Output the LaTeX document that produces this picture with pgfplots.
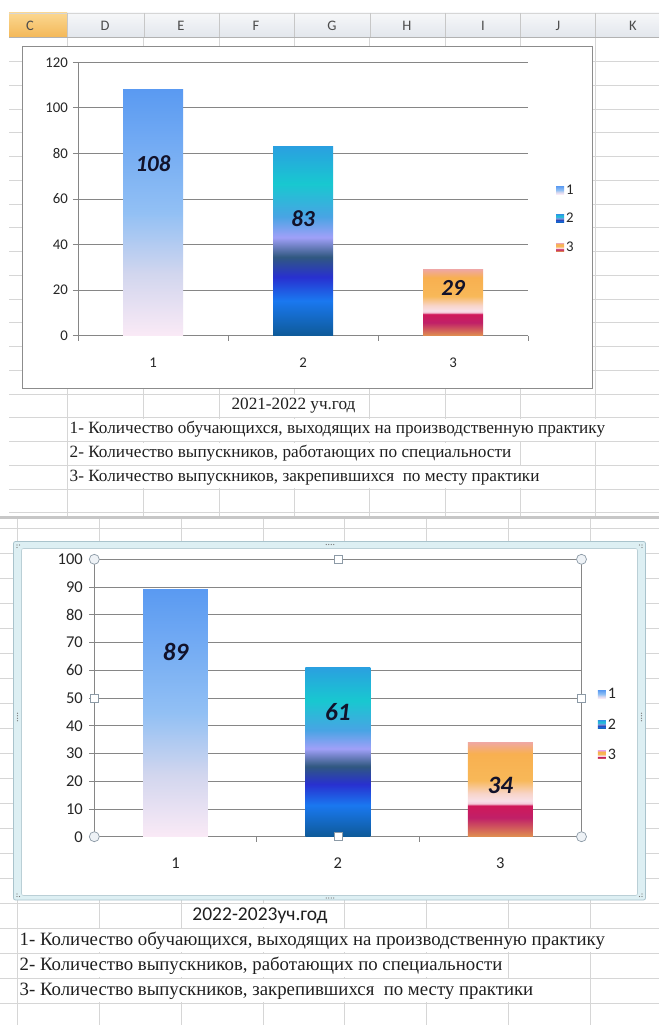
\documentclass[border=0pt]{standalone}
\usepackage{pgfplots}
\pgfplotsset{compat=1.18}
\usetikzlibrary{calc}
\usepackage{fontspec}
\setmainfont{Liberation Serif}
\newfontfamily\calf{Carlito}
% bar 1 shading
\definecolor{a0}{HTML}{FAEAF6}
\definecolor{a1}{HTML}{D2D6EE}
\definecolor{a2}{HTML}{92C0F4}
\definecolor{a3}{HTML}{5A9AF2}
\pgfdeclareverticalshading{barA}{100bp}{color(0bp)=(a0); color(25bp)=(a0); color(37.5bp)=(a1); color(50bp)=(a2); color(75bp)=(a3); color(100bp)=(a3)}
% bar 2 shading
\definecolor{b0}{HTML}{0E5A98}
\definecolor{b1}{HTML}{1A78F0}
\definecolor{b2}{HTML}{2830D0}
\definecolor{b3}{HTML}{305880}
\definecolor{b4}{HTML}{A0A0F8}
\definecolor{b5}{HTML}{48A4E4}
\definecolor{b6}{HTML}{18C8D0}
\definecolor{b7}{HTML}{2AA0E0}
\pgfdeclareverticalshading{barB}{100bp}{color(0bp)=(b0); color(25bp)=(b0); color(34.3bp)=(b1); color(40.5bp)=(b2); color(45.8bp)=(b3); color(51bp)=(b4); color(56.5bp)=(b5); color(65.2bp)=(b6); color(75bp)=(b7); color(100bp)=(b7)}
% bar 3 shading
\definecolor{c0}{HTML}{E09050}
\definecolor{c1}{HTML}{C02068}
\definecolor{c2}{HTML}{D0185A}
\definecolor{c3}{HTML}{F4C8D8}
\definecolor{c4}{HTML}{F8E0E8}
\definecolor{c5}{HTML}{F8D4C8}
\definecolor{c6}{HTML}{F8B858}
\definecolor{c7}{HTML}{F8B050}
\definecolor{c8}{HTML}{F0A8A0}
\pgfdeclareverticalshading{barC}{100bp}{color(0bp)=(c0); color(25bp)=(c0); color(35bp)=(c1); color(41.5bp)=(c2); color(42.5bp)=(c3); color(44bp)=(c4); color(48bp)=(c5); color(55bp)=(c6); color(69bp)=(c7); color(75bp)=(c8); color(100bp)=(c8)}
% header shading
\definecolor{h0}{HTML}{F6F7F9}
\definecolor{h1}{HTML}{E2E6EC}
\definecolor{o0}{HTML}{FBD790}
\definecolor{o1}{HTML}{F3B757}
\definecolor{axisgray}{RGB}{134,134,134}
\definecolor{cellgrid}{RGB}{214,214,214}
\definecolor{lbl}{HTML}{12122A}
\definecolor{frameband}{HTML}{DDEFF3}
\definecolor{frameline}{HTML}{A9C3CC}
\definecolor{handle}{HTML}{8C9AA6}
\definecolor{handlefill}{HTML}{EEF2F6}
\pgfplotsset{
  /pgfplots/ybar legend/.style={/pgfplots/legend image code/.code={\path[##1,draw=none] (0pt,-4pt) rectangle (8pt,4pt);}},
}
\tikzset{hc/.style={fill=handlefill,draw=handle,line width=0.7pt},
  hs/.style={fill=white,draw=handle,line width=0.7pt,minimum size=8pt,inner sep=0pt,rectangle}}
\begin{document}
\begin{tikzpicture}[x=1pt,y=-1pt]
\useasboundingbox (0,0) rectangle (659,1025);
\fill[white] (0,0) rectangle (659,1025);
% ---------------- top screenshot ----------------
\shade[top color=h0,bottom color=h1] (9,13) rectangle (659,37.75);
\shade[top color=o0,bottom color=o1] (9,13) rectangle (67,37.75);
\draw[cellgrid] (9,13) -- (659,13);
\foreach \k in {0,...,20} {\draw[cellgrid,line width=0.8pt] (9,37.75+23.75*\k) -- (659,37.75+23.75*\k);}
\foreach \xx in {67,143.8,218.9,294.3,369.8,445.3,520,595.4} {
  \draw[cellgrid,line width=0.8pt] (\xx,37.75) -- (\xx,516);
  \draw[black!22] (\xx,13) -- (\xx,37.75);
}
\draw[black!30,line width=0.8pt] (9,37.75) -- (659,37.75);
\foreach \lab/\cx in {C/30,D/105,E/181,F/256,G/332,H/407,I/483,J/558,K/633} {
  \node[font=\calf\fontsize{14.5}{14.5}\selectfont,text=black!70] at (\cx,26) {\lab};
}
% separator
\fill[black!22] (0,516) rectangle (659,518.5);
% ---------------- bottom screenshot grid ----------------
\foreach \k in {-4,...,15} {\draw[cellgrid,line width=0.8pt] (0,903.3-25*\k) -- (659,903.3-25*\k);}
\foreach \xx in {17,99.4,181,263,344.7,426.4,508,590} {\draw[cellgrid,line width=0.8pt] (\xx,518.5) -- (\xx,1025);}
% chart 1 frame
\filldraw[fill=white,draw=black!45,line width=0.8pt] (22,46) rectangle (592,388);
% chart 2 frame
\filldraw[fill=frameband,draw=frameline,line width=0.8pt,rounded corners=2pt] (13.5,541.5) rectangle (645.5,900);
\filldraw[fill=white,draw=frameline!80,line width=0.6pt,rounded corners=2pt] (21.5,548.5) rectangle (637.5,895.5);
% dots
\foreach \dx in {-3.75,-1.25,1.25,3.75} {
  \fill[black!55] (330+\dx,544.5) circle (0.7);
  \fill[black!55] (330+\dx,898) circle (0.7);
  \fill[black!55] (17.5,717+\dx) circle (0.7);
  \fill[black!55] (641.5,717+\dx) circle (0.7);
}
\foreach \px/\py in {17/545,19.5/545,17/547.5, 642/545,639.5/545,642/547.5, 17/896.5,19.5/896.5,17/894, 642/896.5,639.5/896.5,642/894} {\fill[black!55] (\px,\py) circle (0.7);}

% ---------------- chart 1 ----------------
\begin{axis}[
  at={(78pt,-335.7pt)}, anchor=south west, scale only axis,
  width=450pt, height=273.4pt,
  xmin=0.5, xmax=3.5, ymin=0, ymax=120,
  ybar, bar width=0.4, bar shift=0pt,
  xtick={1,2,3}, major x tick style={draw=none},
  minor xtick={0.5,1.5,2.5,3.5},
  ytick={0,20,...,120},
  tick align=outside, major tick length=5pt, minor tick length=5pt,
  tick style={draw=axisgray,line width=0.8pt},
  axis lines*=left, axis line style={-,draw=axisgray,line width=0.8pt},
  ymajorgrids, grid style={draw=axisgray,line width=0.8pt},
  /pgf/number format/assume math mode=true,
  ticklabel style={font=\calf\fontsize{14.8}{14.8}\selectfont,text=black!85},
  xticklabel style={yshift=-14pt},
  yticklabel style={xshift=-1.5pt},
  legend style={at={(1.084,0.428)}, anchor=center, draw=none, fill=none,
    font=\calf\fontsize{14.8}{14.8}\selectfont, text=black!85, row sep=13.5pt,
    legend cell align=left, /tikz/every even column/.append style={column sep=1pt}},
]
\addplot[shading=barA,draw=none] coordinates {(1,108)};
\addplot[shading=barB,draw=none] coordinates {(2,83)};
\addplot[shading=barC,draw=none] coordinates {(3,29)};
\legend{1,2,3}
\node[font=\calf\bfseries\itshape\fontsize{23}{23}\selectfont,text=lbl] at (axis cs:1,75.4) {108};
\node[font=\calf\bfseries\itshape\fontsize{23}{23}\selectfont,text=lbl] at (axis cs:2,51.3) {83};
\node[font=\calf\bfseries\itshape\fontsize{23}{23}\selectfont,text=lbl] at (axis cs:3,21) {29};
\end{axis}

% ---------------- chart 2 ----------------
\begin{axis}[
  name=ax2,
  at={(94.3pt,-836.7pt)}, anchor=south west, scale only axis,
  width=487.2pt, height=277.4pt,
  xmin=0.5, xmax=3.5, ymin=0, ymax=100,
  ybar, bar width=0.4, bar shift=0pt,
  xtick={1,2,3}, major x tick style={draw=none},
  minor xtick={0.5,1.5,2.5,3.5},
  ytick={0,10,...,100},
  tick pos=left,
  tick align=outside, major tick length=5pt, minor tick length=5pt,
  tick style={draw=axisgray,line width=0.8pt},
  axis line style={draw=axisgray,line width=0.8pt},
  ymajorgrids, grid style={draw=axisgray,line width=0.8pt},
  /pgf/number format/assume math mode=true,
  ticklabel style={font=\calf\fontsize{16.5}{16.5}\selectfont,text=black!85},
  xticklabel style={yshift=-13pt},
  yticklabel style={xshift=-3pt},
  legend style={at={(1.054,0.404)}, anchor=center, draw=none, fill=none,
    font=\calf\fontsize{16}{16}\selectfont, text=black!85, row sep=14.5pt,
    legend cell align=left, /tikz/every even column/.append style={column sep=2pt}},
]
\addplot[shading=barA,draw=none] coordinates {(1,89)};
\addplot[shading=barB,draw=none] coordinates {(2,61)};
\addplot[shading=barC,draw=none] coordinates {(3,34)};
\legend{1,2,3}
\node[font=\calf\bfseries\itshape\fontsize{25}{25}\selectfont,text=lbl] at (axis cs:1,66.5) {89};
\node[font=\calf\bfseries\itshape\fontsize{25}{25}\selectfont,text=lbl] at (axis cs:2,45) {61};
\node[font=\calf\bfseries\itshape\fontsize{25}{25}\selectfont,text=lbl] at (axis cs:3,18.4) {34};
\end{axis}
% selection handles of the plot area
\draw[hc] (ax2.south west) circle (5pt);
\draw[hc] (ax2.north west) circle (5pt);
\draw[hc] (ax2.south east) circle (5pt);
\draw[hc] (ax2.north east) circle (5pt);
\node[hs] at (ax2.south) {};
\node[hs] at (ax2.north) {};
\node[hs] at (ax2.west) {};
\node[hs] at (ax2.east) {};

% ---------------- texts ----------------
\begin{scope}[every node/.style={fill=white,inner xsep=1pt,inner ysep=0pt,minimum height=22pt,font=\fontsize{17.2}{17.2}\selectfont,text=black!88}]
\node at (293.5,405.9) {2021-2022 уч.год};
\node[anchor=west] at (68.5,429.5) {1- Количество обучающихся, выходящих на производственную практику};
\node[anchor=west] at (68.5,453.6) {2- Количество выпускников, работающих по специальности};
\node[anchor=west] at (68.5,477.4) {3- Количество выпускников, закрепившихся\ \ по месту практики};
\end{scope}
\begin{scope}[every node/.style={fill=white,inner xsep=1pt,inner ysep=0pt,minimum height=23pt,font=\fontsize{18.8}{18.8}\selectfont,text=black!88}]
\node[font=\calf\fontsize{19.5}{19.5}\selectfont] at (260,915.8) {2022-2023уч.год};
\node[anchor=west] at (18.5,940.8) {1- Количество обучающихся, выходящих на производственную практику};
\node[anchor=west] at (18.5,965.8) {2- Количество выпускников, работающих по специальности};
\node[anchor=west] at (18.5,990.8) {3- Количество выпускников, закрепившихся\ \ по месту практики};
\end{scope}
\end{tikzpicture}
\end{document}
